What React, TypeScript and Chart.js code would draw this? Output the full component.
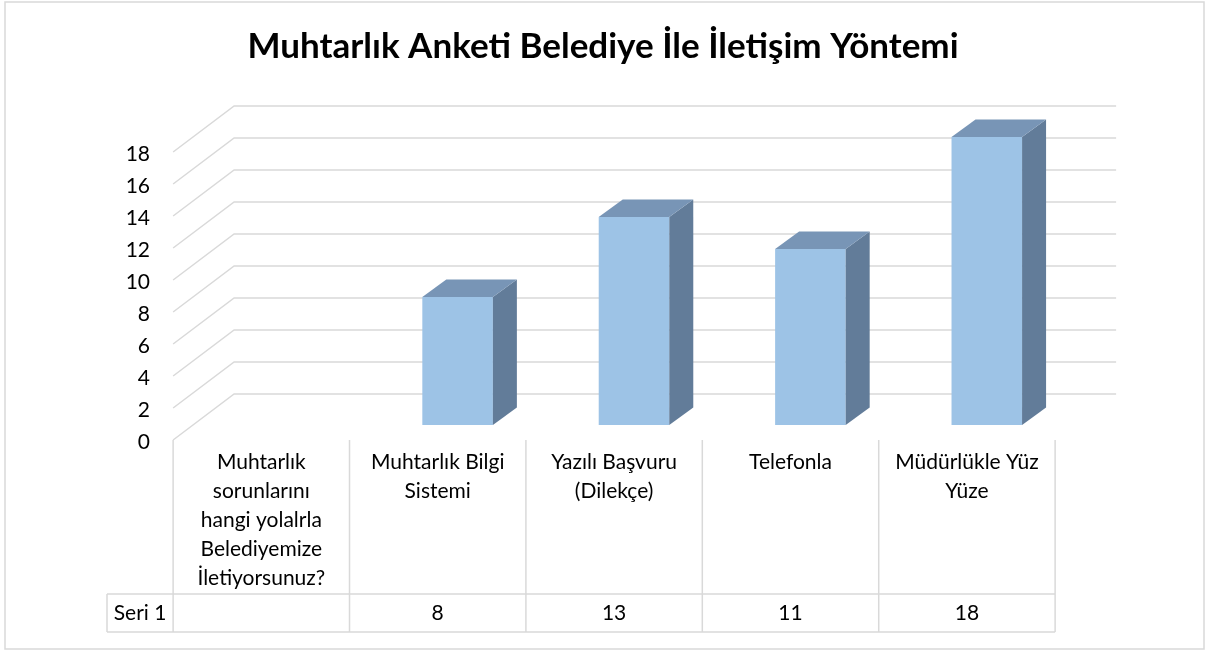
import React, { useEffect, useRef } from "react";
import { Chart, registerables } from "chart.js";

Chart.register(...registerables);

const titleText = "Muhtarlık Anketi Belediye İle İletişim Yöntemi";
const categories: string[][] = [
  ["Muhtarlık", "sorunlarını", "hangi yolalrla", "Belediyemize", "İletiyorsunuz?"],
  ["Muhtarlık Bilgi", "Sistemi"],
  ["Yazılı Başvuru", "(Dilekçe)"],
  ["Telefonla"],
  ["Müdürlükle Yüz", "Yüze"],
];
const seriesName = "Seri 1";
const seriesValues: (number | null)[] = [null, 8, 13, 11, 18];
const yMin = 0;
const yMax = 18;
const yStep = 2;

const FONT = "Lato, 'Open Sans', sans-serif";
const GRID = "#d9d9d9";
const FRONT = "#9dc3e6";
const TOP = "#7895b6";
const SIDE = "#627c99";

// depth geometry (pixels)
const DEPTH = { dx: 61, dy: -46 };
const F0 = 0.326; // bar front plane depth fraction
const BAR_DEPTH = { dx: 24, dy: -17.5 };

const threeD = {
  id: "threeD",
  beforeDatasetsDraw(chart: any) {
    const { ctx, chartArea } = chart;
    const ys = chart.scales.y;
    const frontDx = -F0 * DEPTH.dx;
    const frontDy = -F0 * DEPTH.dy;
    const backDx = (1 - F0) * DEPTH.dx;
    const backDy = (1 - F0) * DEPTH.dy;
    ctx.save();
    ctx.strokeStyle = GRID;
    ctx.lineWidth = 1.5;
    for (let v = yMin; v <= yMax; v += yStep) {
      const p = ys.getPixelForValue(v);
      ctx.beginPath();
      ctx.moveTo(chartArea.left + frontDx, p + frontDy);
      ctx.lineTo(chartArea.left + backDx, p + backDy);
      ctx.lineTo(chartArea.right + backDx, p + backDy);
      ctx.stroke();
    }
    ctx.restore();
  },
  afterDatasetsDraw(chart: any) {
    const { ctx } = chart;
    const meta = chart.getDatasetMeta(0);
    ctx.save();
    meta.data.forEach((el: any, i: number) => {
      if (seriesValues[i] == null) return;
      const { x, y, base, width } = el.getProps(["x", "y", "base", "width"], true);
      const l = x - width / 2;
      const r = x + width / 2;
      const bx = BAR_DEPTH.dx;
      const by = BAR_DEPTH.dy;
      ctx.fillStyle = SIDE;
      ctx.beginPath();
      ctx.moveTo(r, y);
      ctx.lineTo(r + bx, y + by);
      ctx.lineTo(r + bx, base + by);
      ctx.lineTo(r, base);
      ctx.closePath();
      ctx.fill();
      ctx.fillStyle = TOP;
      ctx.beginPath();
      ctx.moveTo(l, y);
      ctx.lineTo(l + bx, y + by);
      ctx.lineTo(r + bx, y + by);
      ctx.lineTo(r, y);
      ctx.closePath();
      ctx.fill();
    });
    ctx.restore();
  },
  afterDraw(chart: any) {
    const { ctx, chartArea } = chart;
    const ys = chart.scales.y;
    const n = categories.length;
    const cat = (chartArea.right - chartArea.left) / n;
    const frontDx = -F0 * DEPTH.dx;
    const frontDy = -F0 * DEPTH.dy;
    const x0 = chartArea.left + frontDx;
    const yTop = ys.getPixelForValue(0) + frontDy;
    const rowTop = 594;
    const rowBottom = 632;
    const leftCell = 107;
    ctx.save();
    ctx.strokeStyle = GRID;
    ctx.lineWidth = 1.5;
    for (let i = 0; i <= n; i++) {
      const xb = x0 + i * cat;
      ctx.beginPath();
      ctx.moveTo(xb, yTop);
      ctx.lineTo(xb, rowBottom);
      ctx.stroke();
    }
    ctx.beginPath();
    ctx.moveTo(leftCell, rowTop);
    ctx.lineTo(x0 + n * cat, rowTop);
    ctx.moveTo(leftCell, rowBottom);
    ctx.lineTo(x0 + n * cat, rowBottom);
    ctx.moveTo(leftCell, rowTop);
    ctx.lineTo(leftCell, rowBottom);
    ctx.stroke();
    // outer border
    ctx.strokeRect(5, 2, 1199, 647);
    ctx.fillStyle = "#000";
    ctx.font = `21px ${FONT}`;
    ctx.textAlign = "center";
    ctx.textBaseline = "middle";
    const rowMid = (rowTop + rowBottom) / 2;
    ctx.fillText(seriesName, (leftCell + x0) / 2, rowMid);
    seriesValues.forEach((v, i) => {
      if (v == null) return;
      ctx.fillText(String(v), x0 + (i + 0.5) * cat, rowMid);
    });
    ctx.restore();
  },
};

export default function App() {
  const ref = useRef<HTMLCanvasElement | null>(null);
  useEffect(() => {
    document.body.style.margin = "0";
    const canvas = ref.current!;
    const chart = new Chart(canvas, {
      type: "bar",
      data: {
        labels: categories as any,
        datasets: [
          {
            label: seriesName,
            data: seriesValues as any,
            backgroundColor: FRONT,
            borderWidth: 0,
            barPercentage: 0.4,
            categoryPercentage: 1.0,
          },
        ],
      },
      options: {
        responsive: false,
        animation: false,
        devicePixelRatio: 1,
        layout: { padding: { left: 0, right: 0, top: 0, bottom: 0 } },
        plugins: {
          legend: { display: false },
          tooltip: { enabled: false },
          title: {
            display: true,
            text: titleText,
            color: "#000",
            font: { family: FONT, size: 35, weight: "bold", lineHeight: 1.2 },
            padding: { top: 26, bottom: 69 },
          },
        },
        scales: {
          x: {
            grid: { display: false },
            border: { display: false },
            ticks: {
              color: "#000",
              font: { family: FONT, size: 21, lineHeight: 1.38 },
              maxRotation: 0,
              minRotation: 0,
              autoSkip: false,
              labelOffset: -F0 * DEPTH.dx,
              padding: 15,
            },
            afterFit: (s: any) => {
              s.height = 651 - 425;
            },
          },
          y: {
            min: yMin,
            max: yMax,
            grid: { display: false, drawTicks: false },
            border: { display: false },
            ticks: {
              stepSize: yStep,
              color: "#000",
              font: { family: FONT, size: 21 },
              padding: 43,
              labelOffset: -F0 * DEPTH.dy + 2,
            },
            afterFit: (s: any) => {
              s.width = 193;
            },
          },
          yR: {
            type: "linear",
            position: "right",
            display: true,
            grid: { display: false, drawTicks: false },
            border: { display: false },
            ticks: { display: false },
            afterFit: (s: any) => {
              s.width = 131;
            },
          },
        },
      } as any,
      plugins: [threeD],
    });
    return () => chart.destroy();
  }, []);
  return (
    <div style={{ width: 1206, height: 651, background: "#fff" }}>
      <canvas ref={ref} width={1206} height={651} style={{ display: "block" }} />
    </div>
  );
}
